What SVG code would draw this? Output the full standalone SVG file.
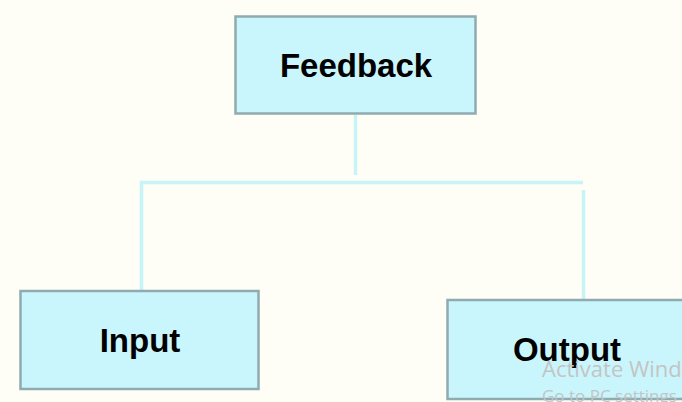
<svg xmlns="http://www.w3.org/2000/svg" width="682" height="402" viewBox="0 0 682 402">
<style>
.box{fill:#C9F6FC;stroke:#8FABAF;stroke-width:2.5}
.lbl{font-family:"Liberation Sans",Arial,sans-serif;font-weight:bold;font-size:33px;fill:#000;text-anchor:middle}
.conn{stroke:#C6F4F8;stroke-width:3.5;fill:none}
.wm{font-family:"Open Sans","Liberation Sans",sans-serif;fill:#C4C4C4}
</style>
<rect width="682" height="402" fill="#FFFEF6"/>
<g id="connectors">
<line class="conn" x1="355.5" y1="115" x2="355.5" y2="175"/>
<polyline class="conn" points="141.5,290 141.5,182.5 583,182.5"/>
<line class="conn" x1="583.5" y1="190" x2="583.5" y2="299"/>
</g>
<g id="feedback">
<rect class="box" x="235.5" y="16.5" width="240" height="97"/>
<text class="lbl" x="356" y="77">Feedback</text>
</g>
<g id="input">
<rect class="box" x="20.5" y="291" width="238" height="98"/>
<text class="lbl" x="140" y="352">Input</text>
</g>
<g id="output">
<rect class="box" x="447.5" y="300" width="240" height="99"/>
<text class="lbl" x="567" y="361">Output</text>
</g>
<g id="watermark">
<text class="wm" x="542" y="377" font-size="22">Activate Windows</text>
<text class="wm" x="542" y="402" font-size="17">Go to PC settings</text>
</g>
</svg>
